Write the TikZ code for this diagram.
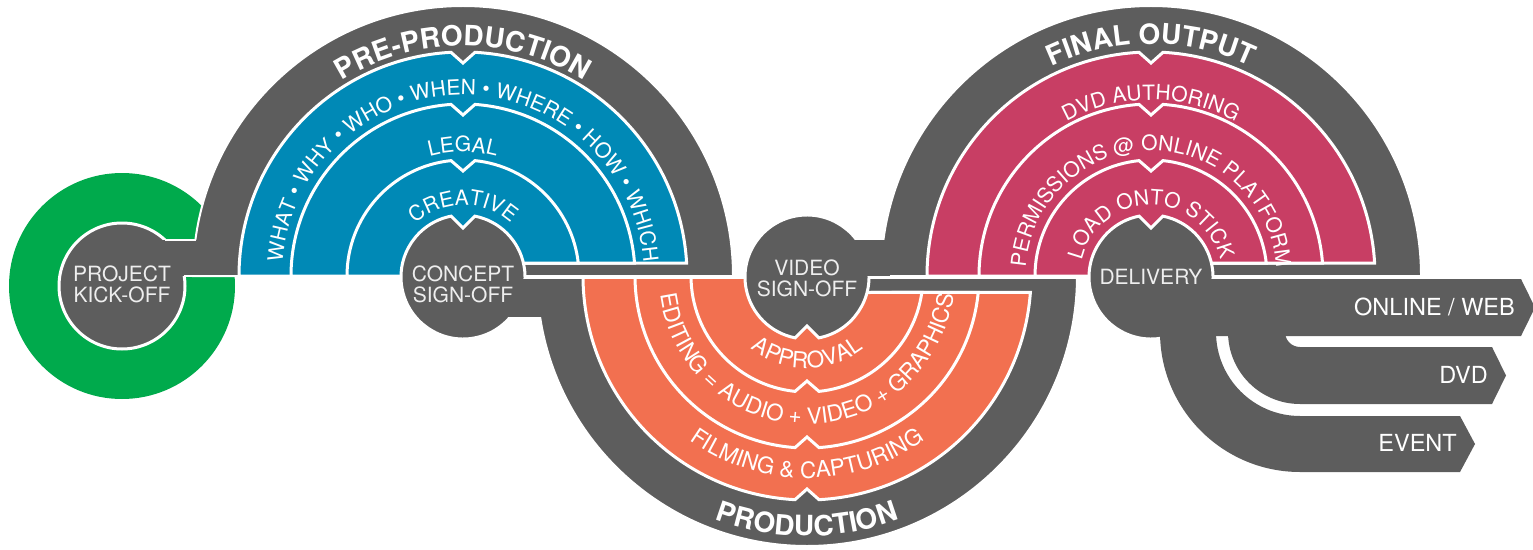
\documentclass[tikz,border=0pt]{standalone}
\usepackage{fontspec}
\setmainfont{TeX Gyre Heros}
\usetikzlibrary{decorations.text}

\definecolor{ringgray}{RGB}{93,93,93}
\definecolor{kickgreen}{RGB}{0,170,76}
\definecolor{preblue}{RGB}{0,137,182}
\definecolor{prodorange}{RGB}{242,112,80}
\definecolor{finalpink}{RGB}{200,62,100}
\definecolor{hubwhite}{RGB}{238,238,238}

\newcommand{\headfont}{\fontsize{28}{28}\selectfont\bfseries}
\newcommand{\bandfont}{\fontsize{21}{21}\selectfont}
\newcommand{\prodfont}{\fontsize{22.5}{22.5}\selectfont}

\begin{document}
\begin{tikzpicture}[x=1pt,y=1pt,
    ring/.style={fill=ringgray,draw=white,line width=2pt},
    band/.style={fill=#1,draw=white,line width=3pt},
    hub/.style={fill=ringgray,draw=white,line width=3pt},
    hubtext/.style={text=hubwhite,font=\fontsize{21}{20.7}\selectfont,align=center,inner sep=0pt},
    outtext/.style={text=white,font=\fontsize{23.5}{23.5}\selectfont,anchor=east,inner sep=0pt},
    arctext/.style={decorate,decoration={text along path,text align=center,text color=white,text={#1}}}]

    \useasboundingbox (0,-273) rectangle (1533,276);

    % kick-off ring
    \fill[kickgreen] (122,-10) circle[radius=113];

    % grey half discs
    \draw[ring] (193,0) arc[start angle=180,end angle=0,radius=270] -- cycle;
    \draw[ring] (881,0) arc[start angle=180,end angle=0,radius=270] -- cycle;
    \begin{scope}
        \clip (500,-3) rectangle (1120,-280);
        \draw[ring] (537,0) arc[start angle=180,end angle=360,radius=270] -- cycle;
    \end{scope}

    % upper bands
    \foreach \cx/\col in {463/preblue,1151/finalpink}{
        \foreach \R in {224,172,116}{
            \pgfmathsetmacro{\a}{12/\R*180/pi}
            \pgfmathsetmacro{\e}{asin(13/\R)}
            \draw[band=\col,shift={(\cx,0)}] (180:\R) arc[start angle=180,end angle=90+\a,radius=\R]
                -- (0,\R-11) -- (90-\a:\R) arc[start angle=90-\a,end angle=\e,radius=\R]
                -- (0,13) -- (0,0) -- cycle;
        }
    }

    % lower bands
    \begin{scope}
        \clip (500,-3) rectangle (1120,-280);
        \foreach \R in {224,172,116}{
            \pgfmathsetmacro{\a}{12/\R*180/pi}
            \pgfmathsetmacro{\e}{asin(16.5/\R)}
            \draw[band=prodorange,shift={(807,0)}] (180:\R) arc[start angle=180,end angle=270-\a,radius=\R]
                -- (0,-\R+11) -- (270+\a:\R) arc[start angle=270+\a,end angle=360-\e,radius=\R]
                -- (0,-16.5) -- (0,0) -- cycle;
        }
    \end{scope}

    % sign-off hubs
    \draw[hub,shift={(463,-1)}] (101:62) arc[start angle=101,end angle=439,radius=62] -- (0,49) -- cycle;
    \draw[hub,shift={(807,-1)}] (281:62) arc[start angle=281,end angle=619,radius=62] -- (0,-49) -- cycle;
    \draw[hub,shift={(1151,-1)}] (101:62) arc[start angle=101,end angle=439,radius=62] -- (0,49) -- cycle;

    % bars between hubs and rings
    \fill[ringgray] (470,-3) rectangle (548,-41);
    \fill[ringgray] (815,0) rectangle (890,36);

    % delivery arms
    \fill[ringgray] (1160,-45) -- (1160,-56) arc[start angle=180,end angle=270,radius=140]
        -- (1460,-196) -- (1475,-168) -- (1460,-140) -- (1300,-140)
        arc[start angle=270,end angle=180,radius=84] -- (1216,-45) -- cycle;
    \fill[ringgray] (1228,-45) -- (1228,-56) arc[start angle=180,end angle=270,radius=72]
        -- (1492,-128) -- (1506,-99.5) -- (1492,-71) -- (1300,-71)
        arc[start angle=270,end angle=180,radius=15] -- (1285,-45) -- cycle;
    \fill[ringgray] (1165,-3) -- (1521,-3) -- (1535,-31.5) -- (1521,-60) -- (1165,-60) -- cycle;

    % kick-off hub
    \draw[hub] (122,-10) circle[radius=63];
    \fill[ringgray] (150,0) rectangle (205,36);
    \draw[white,line width=2.5pt] (165,36) -- (195.5,36);
    \draw[white,line width=2.5pt] (184,0) -- (206,0);

    % hub labels
    \node[hubtext] (kickoff) at (122,-8) {PROJECT\\KICK-OFF};
    \node[hubtext] (concept) at (463,-8) {CONCEPT\\SIGN-OFF};
    \node[hubtext] (video) at (807,-2) {VIDEO\\SIGN-OFF};
    \node[hubtext] (delivery) at (1151,-1) {DELIVERY};

    % outputs
    \node[outtext] (online) at (1515,-31) {ONLINE / WEB};
    \node[outtext] (dvd) at (1488,-99) {DVD};
    \node[outtext] (event) at (1457,-167) {EVENT};

    % ring texts
    \path[arctext={|\headfont|PRE-PRODUCTION}] (233,0) arc[start angle=180,end angle=0,radius=230];
    \path[arctext={|\bandfont|WHAT • WHY • WHO • WHEN • WHERE • HOW • WHICH}] (282,0) arc[start angle=180,end angle=0,radius=181];
    \path[arctext={|\bandfont|LEGAL}] (339,0) arc[start angle=180,end angle=0,radius=124];
    \path[arctext={|\bandfont|CREATIVE}] (392,0) arc[start angle=180,end angle=0,radius=71];

    \path[arctext={|\headfont|PRODUCTION}] (547,0) arc[start angle=180,end angle=360,radius=260];
    \path[arctext={|\prodfont|FILMING {\&} CAPTURING}] (605,0) arc[start angle=180,end angle=360,radius=202];
    \path[arctext={|\prodfont|EDITING = AUDIO + VIDEO + GRAPHICS}] (659,0) arc[start angle=180,end angle=360,radius=148];
    \path[arctext={|\prodfont|APPROVAL}] (715,0) arc[start angle=180,end angle=360,radius=92];

    \path[arctext={|\headfont|FINAL OUTPUT}] (919,0) arc[start angle=180,end angle=0,radius=232];
    \path[arctext={|\bandfont|DVD AUTHORING}] (975,0) arc[start angle=180,end angle=0,radius=176];
    \path[arctext={|\bandfont|PERMISSIONS @ ONLINE PLATFORM}] (1025.5,0) arc[start angle=180,end angle=0,radius=125.5];
    \path[arctext={|\bandfont|LOAD ONTO STICK}] (1080,0) arc[start angle=180,end angle=0,radius=71];
\end{tikzpicture}
\end{document}
